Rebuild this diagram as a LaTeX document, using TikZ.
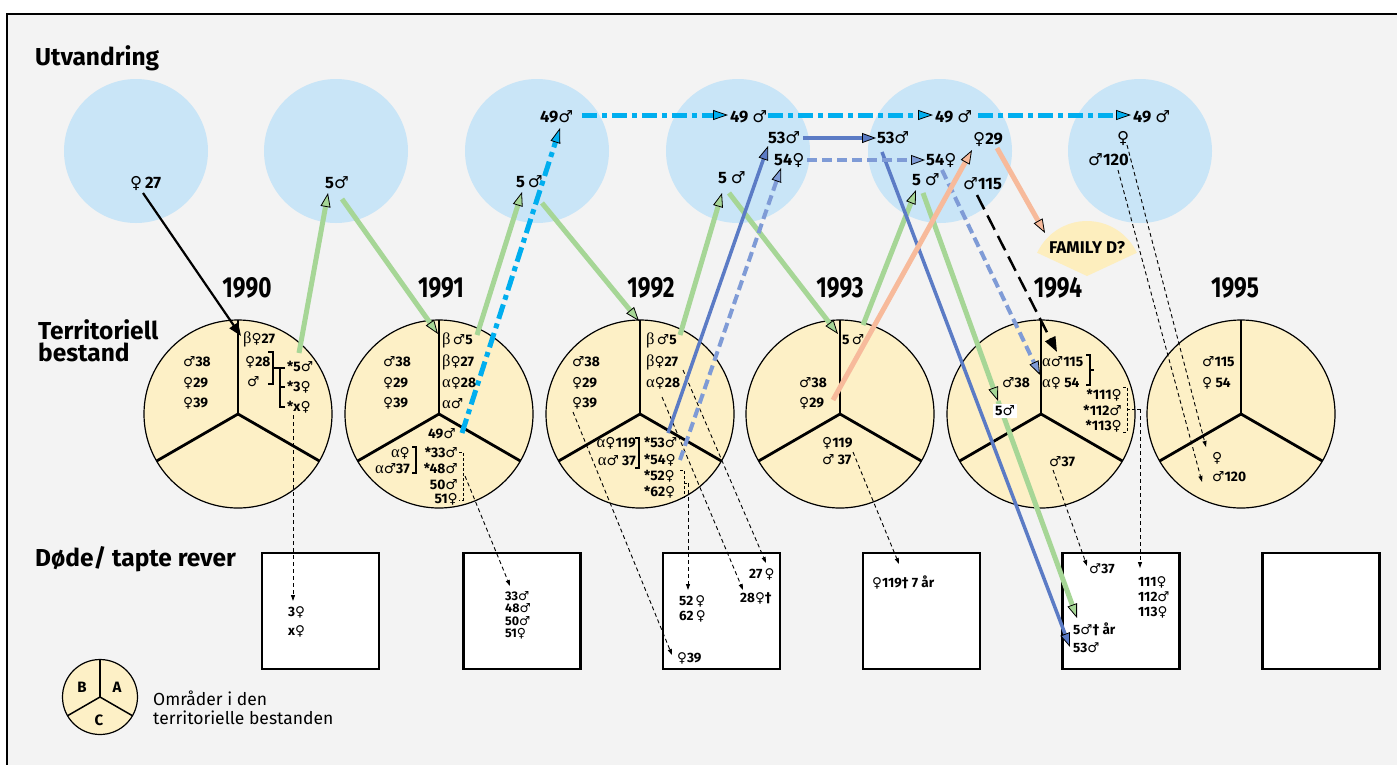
\documentclass[tikz,border=0pt]{standalone}
\usepackage{fontspec}
\usepackage{graphicx}
\setmainfont{Fira Sans}
\newfontfamily\symf{DejaVu Sans}[Scale=1.0]
\newfontfamily\grf{Liberation Serif}[Scale=1.2]
\usetikzlibrary{arrows.meta}
\definecolor{bgc}{RGB}{243,243,243}
\definecolor{lblue}{RGB}{201,229,247}
\definecolor{pieY}{RGB}{253,240,198}
\definecolor{famY}{RGB}{253,238,190}
\definecolor{gcol}{RGB}{166,214,150}
\definecolor{ccol}{RGB}{0,174,239}
\definecolor{bcol}{RGB}{91,123,197}
\definecolor{dcol}{RGB}{127,155,214}
\definecolor{ocol}{RGB}{247,186,155}
\newcommand\Fe{{\symf\mdseries ♀}}
\newcommand\Ma{{\symf\mdseries ♂}}
\newcommand\al{{\grf\mdseries α}}
\newcommand\be{{\grf\mdseries β}}
\newcommand\dg{{\symf\bfseries †}}
\tikzset{
  bc/.style={circle, fill=lblue, minimum size=144pt, inner sep=0pt},
  pie/.style={circle, draw=black, line width=1.2pt, fill=pieY, minimum size=188pt, inner sep=0pt},
  rad/.style={line width=2.8pt},
  dbox/.style={draw=black, line width=2.4pt, fill=white, minimum width=117pt, minimum height=116pt, inner sep=0pt},
  top/.style={anchor=west, inner sep=0pt, font=\bfseries\fontsize{16.5}{18}\selectfont, text height=11.5pt, text depth=0pt},
  pl/.style={anchor=west, inner sep=0pt, font=\bfseries\fontsize{13.8}{15}\selectfont, text height=9.5pt, text depth=0pt},
  bx/.style={anchor=west, inner sep=0pt, font=\bfseries\fontsize{13.5}{14}\selectfont, text height=9pt, text depth=0pt},
  bxs/.style={anchor=west, inner sep=0pt, font=\bfseries\fontsize{12.5}{13}\selectfont, text height=8.5pt, text depth=0pt},
  yr/.style={anchor=base, inner sep=0pt, font=\bfseries\fontsize{29}{30}\selectfont},
  head/.style={anchor=base west, inner sep=0pt, font=\bfseries\fontsize{24.5}{26}\selectfont},
  garr/.style={draw=gcol, line width=5pt, -{Triangle[length=14pt,width=10pt,fill=gcol,color=black,line width=0.8pt]}},
  carr/.style={draw=ccol, line width=5pt, dash pattern=on 15pt off 5pt on 5pt off 5pt, -{Triangle[length=15pt,width=10pt,fill=ccol,color=black,line width=0.8pt]}},
  barr/.style={draw=bcol, line width=3.5pt, -{Triangle[length=14pt,width=10pt,fill=bcol,color=black,line width=0.8pt]}},
  darr/.style={draw=dcol, line width=4pt, dash pattern=on 10pt off 5pt, -{Triangle[length=14pt,width=10pt,fill=dcol,color=black,line width=0.8pt]}},
  oarr/.style={draw=ocol, line width=5pt, -{Triangle[length=14pt,width=10pt,fill=ocol,color=black,line width=0.8pt]}},
  karr/.style={draw=black, line width=2.5pt, dash pattern=on 16pt off 7pt, -{Triangle[length=15pt,width=11pt]}},
  sarr/.style={draw=black, line width=2.2pt, -{Triangle[length=13pt,width=10pt]}},
  tarr/.style={draw=black, line width=0.9pt, dash pattern=on 4pt off 3pt, -{Triangle[length=6pt,width=4pt]}},
  brk/.style={line width=1.2pt},
  dbrk/.style={line width=0.9pt, dash pattern=on 3pt off 2pt},
}
\begin{document}
\begin{tikzpicture}[x=1pt,y=-1pt]
\useasboundingbox (0,0) rectangle (1397,764);
\fill[white] (0,0) rectangle (1397,764);
\draw[fill=bgc, line width=1.2pt] (7,14) rectangle (1420,790);

% headings
\node[head] (hU) at (35,65) {Utvandring};
\node[head] (hT1) at (38,339) {Territoriell};
\node[head] (hT2) at (38,361) {bestand};
\node[head] (hD) at (35,566) {Døde/ tapte rever};

% emigration circles
\node[bc] (u1) at (136,151) {};
\node[bc] (u2) at (336,151) {};
\node[bc] (u3) at (537,151) {};
\node[bc] (u4) at (738,151) {};
\node[bc] (u5) at (940,151) {};
\node[bc] (u6) at (1140,151) {};

% family D
\coordinate (famc) at (1087,276);
\fill[famY] (famc) -- ++(-25:55) arc[start angle=-25, end angle=-155, radius=55] -- cycle;
\node[inner sep=0pt, font=\bfseries\fontsize{17}{18}\selectfont] (fam) at (1087,248) {FAMILY D?};

% years
\node[yr] (y90) at (247,297) {\scalebox{0.78}[1]{1990}};
\node[yr] (y91) at (441,297) {\scalebox{0.78}[1]{1991}};
\node[yr] (y92) at (651,297) {\scalebox{0.78}[1]{1992}};
\node[yr] (y93) at (840,297) {\scalebox{0.78}[1]{1993}};
\node[yr] (y94) at (1058,297) {\scalebox{0.78}[1]{1994}};
\node[yr] (y95) at (1235,297) {\scalebox{0.78}[1]{1995}};

% pies
\foreach \n/\x in {p90/238,p91/439,p92/640,p93/840,p94/1041,p95/1241}{
  \node[pie] (\n) at (\x,414) {};
  \draw[rad] (\n.center) -- ++(0,-94);
  \draw[rad] (\n.center) -- ++(-81.4,47);
  \draw[rad] (\n.center) -- ++(81.4,47);
}

% boxes
\node[dbox] (b1) at (320.5,611) {};
\node[dbox] (b2) at (522,611) {};
\node[dbox] (b3) at (721.5,611) {};
\node[dbox] (b4) at (921.5,611) {};
\node[dbox] (b5) at (1121,611) {};
\node[dbox] (b6) at (1321,611) {};

% legend
\node[pie, minimum size=75pt] (lg) at (100,697) {};
\draw[line width=1.5pt] (lg.center) -- ++(0,-37.5);
\draw[line width=1.5pt] (lg.center) -- ++(-32.5,18.75);
\draw[line width=1.5pt] (lg.center) -- ++(32.5,18.75);
\node[inner sep=0pt, font=\bfseries\fontsize{15}{16}\selectfont] (lgB) at (82,687) {B};
\node[inner sep=0pt, font=\bfseries\fontsize{15}{16}\selectfont] (lgA) at (117,687) {A};
\node[inner sep=0pt, font=\bfseries\fontsize{15}{16}\selectfont] (lgC) at (99,720) {C};
\node[anchor=base west, inner sep=0pt, font=\fontsize{17.5}{19}\selectfont] (lt1) at (153,705) {Områder i den};
\node[anchor=base west, inner sep=0pt, font=\fontsize{17.5}{19}\selectfont] (lt2) at (153,724) {territorielle bestanden};

% ---------- connector end points ----------
\coordinate (s27) at (143,193);   \coordinate (e27) at (241,336);
\coordinate (g1a) at (299,353);   \coordinate (g1b) at (328,193);
\coordinate (g2a) at (342,199);   \coordinate (g2b) at (438,334);
\coordinate (g3a) at (477,335);   \coordinate (g3b) at (522,192);
\coordinate (g4a) at (542,203);   \coordinate (g4b) at (639,321);
\coordinate (g5a) at (680,335);   \coordinate (g5b) at (722,193);
\coordinate (g6a) at (729,193);   \coordinate (g6b) at (838,334);
\coordinate (g7a) at (863,325);   \coordinate (g7b) at (916,190);
\coordinate (g8a) at (923,193);   \coordinate (g8m) at (998,401); \coordinate (g8b) at (1077,618);
\coordinate (c1a) at (462,433);   \coordinate (c1b) at (560,128);
\coordinate (c2a) at (582,115);   \coordinate (c2b) at (728,115);
\coordinate (c3a) at (768,115);   \coordinate (c3b) at (933,115);
\coordinate (c4a) at (978,115);   \coordinate (c4b) at (1131,115);
\coordinate (bl1a) at (668,433); \coordinate (bl1b) at (768,146);
\coordinate (bl2a) at (803,138); \coordinate (bl2b) at (876,138);
\coordinate (bl3a) at (882,152); \coordinate (bl3b) at (1070,647);
\coordinate (d1a) at (680,460);  \coordinate (d1b) at (781,168);
\coordinate (d2a) at (807,160);  \coordinate (d2b) at (925,160);
\coordinate (d3a) at (942,170);  \coordinate (d3b) at (1040,375);
\coordinate (o1a) at (833,400);  \coordinate (o1b) at (972,150);
\coordinate (o2a) at (997,148);  \coordinate (o2b) at (1045,233);
\coordinate (k1a) at (977,195);  \coordinate (k1b) at (1057,352);
\coordinate (t1a) at (293,415);  \coordinate (t1b) at (293,601);
\coordinate (t2a) at (465,476);  \coordinate (t2b) at (510,586);
\coordinate (t3a) at (573,412);  \coordinate (t3b) at (672,655);
\coordinate (t4a) at (683,370);  \coordinate (t4b) at (766,563);
\coordinate (t5a) at (662,397);  \coordinate (t5b) at (743,590);
\coordinate (t6a) at (688,483);  \coordinate (t6b) at (688,590);
\coordinate (t7a) at (853,452);  \coordinate (t7b) at (899,564);
\coordinate (t8a) at (1053,470); \coordinate (t8b) at (1087,566);
\coordinate (t9a) at (1140,409); \coordinate (t9b) at (1140,568);
\coordinate (t10a) at (1127,145); \coordinate (t10b) at (1206,447);
\coordinate (t11a) at (1118,170); \coordinate (t11b) at (1202,482);

% thin dashed
\foreach \i in {1,...,11}{ \draw[tarr] (t\i a) -- (t\i b); }

% brackets
\draw[brk] (268,352) -- (273,352) -- (273,384) -- (268,384);
\draw[brk] (273,368) -- (280,368);
\draw[brk] (285,368) -- (280,368) -- (280,407) -- (285,407);
\draw[brk] (280,387) -- (285,387);
\draw[brk] (412,447) -- (416,447) -- (416,473) -- (412,473);
\draw[dbrk] (459,452) -- (463,452) -- (463,500) -- (459,500);
\draw[brk] (635,438) -- (639,438) -- (639,468) -- (635,468);
\draw[dbrk] (680,470) -- (684,470) -- (684,497) -- (680,497);
\draw[dbrk] (684,483) -- (688,483);
\draw[brk] (1086,355) -- (1090,355) -- (1090,385) -- (1086,385);
\draw[brk] (1090,370) -- (1094,370);
\draw[dbrk] (1123,387) -- (1127,387) -- (1127,432) -- (1123,432);
\draw[dbrk] (1127,409) -- (1140,409);

% coloured connectors
\draw[sarr] (s27) -- (e27);
\draw[garr] (g1a) -- (g1b);
\draw[garr] (g2a) -- (g2b);
\draw[garr] (g3a) -- (g3b);
\draw[garr] (g4a) -- (g4b);
\draw[garr] (g5a) -- (g5b);
\draw[garr] (g6a) -- (g6b);
\draw[garr] (g7a) -- (g7b);
\draw[barr] (bl1a) -- (bl1b);
\draw[barr] (bl2a) -- (bl2b);
\draw[barr] (bl3a) -- (bl3b);
\draw[garr] (g8a) -- (g8m);
\draw[garr] (g8m) -- (g8b);
\draw[darr] (d1a) -- (d1b);
\draw[darr] (d2a) -- (d2b);
\draw[darr] (d3a) -- (d3b);
\draw[oarr] (o1a) -- (o1b);
\draw[oarr] (o2a) -- (o2b);
\draw[karr] (k1a) -- (k1b);
\draw[carr] (c1a) -- (c1b);
\draw[carr] (c2a) -- (c2b);
\draw[carr] (c3a) -- (c3b);
\draw[carr] (c4a) -- (c4b);

% top labels
\node[top] (l27) at (130,183) {\Fe\,27};
\node[top] (l5a) at (325,183) {5\Ma};
\node[top] (l49a) at (540,117) {49\Ma};
\node[top] (l5b) at (516,182) {5\,\Ma};
\node[top] (l49b) at (730,117) {49 \Ma};
\node[top] (l53a) at (768,138) {53\Ma};
\node[top] (l54a) at (774,160) {54\Fe};
\node[top] (l5c) at (718,178) {5 \Ma};
\node[top] (l53b) at (877,138) {53\Ma};
\node[top] (l49c) at (935,117) {49 \Ma};
\node[top] (l29) at (973,139) {\Fe29};
\node[top] (l54b) at (926,160) {54\Fe};
\node[top] (l5d) at (912,180) {5 \Ma};
\node[top] (l115) at (963,184) {\Ma115};
\node[top] (l49d) at (1133,117) {49 \Ma};
\node[top] (lf6) at (1117,138) {\Fe};
\node[top] (l120) at (1088,160) {\Ma120};

% 1990
\node[pl] (a1) at (183,362) {\Ma38};
\node[pl] (a2) at (183,383) {\Fe29};
\node[pl] (a3) at (183,403) {\Fe39};
\node[pl] (a4) at (243,339) {\be\Fe27};
\node[pl] (a5) at (245,362) {\Fe28};
\node[pl] (a6) at (247,382) {\Ma};
\node[pl] (a7) at (287,367) {*5\Ma};
\node[pl] (a8) at (287,387) {*3\Fe};
\node[pl] (a9) at (287,407) {*x\Fe};
% 1991
\node[pl] (b91a) at (383,362) {\Ma38};
\node[pl] (b91b) at (383,383) {\Fe29};
\node[pl] (b91c) at (383,403) {\Fe39};
\node[pl] (b91d) at (442,340) {\be\,\Ma5};
\node[pl] (b91e) at (442,362) {\be\Fe27};
\node[pl] (b91f) at (442,383) {\al\Fe28};
\node[pl] (b91g) at (442,404) {\al\Ma};
\node[pl] (b91h) at (428,434) {49\Ma};
\node[pl, anchor=east] (b91i) at (410,453) {\al\Fe};
\node[pl, anchor=east] (b91j) at (410,469) {\al\Ma37};
\node[pl, anchor=east] (b91k) at (458,453) {*33\Ma};
\node[pl, anchor=east] (b91l) at (458,469) {*48\Ma};
\node[pl, anchor=east] (b91m) at (458,485) {50\Ma};
\node[pl, anchor=east] (b91n) at (458,499) {51\Fe};
% 1992
\node[pl] (c92a) at (572,362) {\Ma38};
\node[pl] (c92b) at (572,383) {\Fe29};
\node[pl] (c92c) at (572,403) {\Fe39};
\node[pl] (c92d) at (646,340) {\be\,\Ma5};
\node[pl] (c92e) at (646,362) {\be\Fe27};
\node[pl] (c92f) at (646,383) {\al\Fe28};
\node[pl, anchor=east] (c92g) at (636,443) {\al\Fe119};
\node[pl, anchor=east] (c92h) at (636,461) {\al\Ma\ 37};
\node[pl] (c92i) at (644,443) {*53\Ma};
\node[pl] (c92j) at (644,460) {*54\Fe};
\node[pl] (c92k) at (644,476) {*52\Fe};
\node[pl] (c92l) at (644,492) {*62\Fe};
% 1993
\node[pl] (d93a) at (842,340) {5\,\Ma};
\node[pl] (d93b) at (799,383) {\Ma38};
\node[pl] (d93c) at (799,403) {\Fe29};
\node[pl] (d93d) at (822,443) {\Fe119};
\node[pl] (d93e) at (822,460) {\Ma\ 37};
% 1994
\node[pl] (e94a) at (1042,362) {\al\Ma115};
\node[pl] (e94b) at (1042,383) {\al\Fe\ 54};
\node[pl, anchor=east] (e94c) at (1122,395) {*111\Fe};
\node[pl, anchor=east] (e94d) at (1122,411) {*112\Ma};
\node[pl, anchor=east] (e94e) at (1122,426) {*113\Fe};
\node[pl] (e94f) at (1002,383) {\Ma38};
\node[pl, anchor=center, fill=white, inner sep=2pt] (e94g) at (1005,411) {5\Ma};
\node[pl] (e94h) at (1049,462) {\Ma37};
% 1995
\node[pl] (f95a) at (1202,362) {\Ma115};
\node[pl] (f95b) at (1202,383) {\Fe\ 54};
\node[pl] (f95c) at (1212,458) {\Fe};
\node[pl] (f95d) at (1212,477) {\Ma120};

% box texts
\node[bx] (x1) at (288,612) {3\Fe};
\node[bx] (x2) at (288,631) {x\Fe};
\node[bxs] (x3) at (505,596) {33\Ma};
\node[bxs] (x4) at (505,608.5) {48\Ma};
\node[bxs] (x5) at (505,621) {50\Ma};
\node[bxs] (x6) at (505,633.5) {51\Fe};
\node[bx] (x7) at (679,601) {52\,\Fe};
\node[bx] (x8) at (679,616) {62\,\Fe};
\node[bx] (x9) at (677,658) {\Fe39};
\node[bx] (x10) at (749,574) {27\,\Fe};
\node[bx] (x11) at (740,598) {28\Fe\dg};
\node[bx] (x12) at (872,583) {\Fe119\dg\ 7 år};
\node[bx] (x13) at (1089,569) {\Ma37};
\node[bx] (x14) at (1138,582) {111\Fe};
\node[bx] (x15) at (1138,597) {112\Ma};
\node[bx] (x16) at (1138,612) {113\Fe};
\node[bx] (x17) at (1073,630) {5\Ma\dg\ år};
\node[bx] (x18) at (1073,648) {53\Ma};
\end{tikzpicture}
\end{document}
